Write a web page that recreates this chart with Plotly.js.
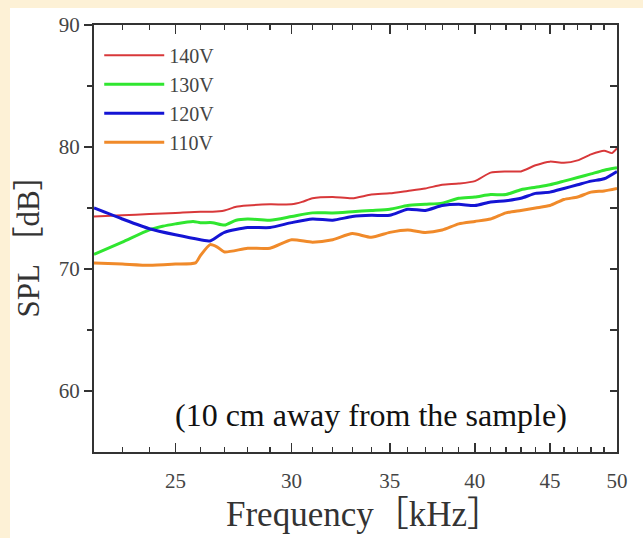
<!DOCTYPE html>
<html>
<head>
<meta charset="utf-8">
<script src="https://cdn.plot.ly/plotly-3.0.1.min.js"></script>
<style>
html, body { margin: 0; padding: 0; background: #FDF1D6; width: 643px; height: 538px; overflow: hidden; }
#chart { position: absolute; left: 10px; top: 8px; width: 633px; height: 530px; background: #ffffff; }
</style>
</head>
<body>
<div id="chart"></div>
<script>
// ---- data ----
const seriesNames = ["140V", "130V", "120V", "110V"];

const freq140 = [22, 23, 24, 25, 26, 26.5, 27, 27.5, 28, 29, 30, 30.5, 31, 32, 33, 34, 35, 36, 37, 38, 39, 40, 41, 42, 43, 44, 45, 46, 47, 48, 49, 49.6, 50];
const spl140  = [74.3, 74.4, 74.5, 74.6, 74.7, 74.7, 74.8, 75.1, 75.2, 75.3, 75.3, 75.5, 75.8, 75.9, 75.8, 76.1, 76.2, 76.4, 76.6, 76.9, 77.0, 77.2, 77.9, 78.0, 78.0, 78.5, 78.8, 78.7, 78.9, 79.4, 79.7, 79.5, 79.9];

const freq130 = [22, 23, 24, 24.5, 25, 25.7, 26, 26.5, 27, 27.5, 28, 29, 30, 31, 32, 33, 34, 35, 36, 37, 38, 39, 40, 41, 42, 43, 44, 45, 46, 47, 48, 49, 50];
const spl130  = [71.2, 72.2, 73.2, 73.5, 73.7, 73.9, 73.8, 73.8, 73.6, 74.0, 74.1, 74.0, 74.3, 74.6, 74.6, 74.7, 74.8, 74.9, 75.2, 75.3, 75.4, 75.8, 75.9, 76.1, 76.1, 76.5, 76.7, 76.9, 77.2, 77.5, 77.8, 78.1, 78.3];

const freq120 = [22, 23, 24, 25, 26, 26.4, 26.5, 27, 28, 29, 30, 31, 32, 33, 34, 35, 36, 37, 38, 39, 40, 41, 42, 43, 44, 45, 46, 47, 48, 49, 50];
const spl120  = [75.0, 74.1, 73.3, 72.8, 72.4, 72.3, 72.4, 73.0, 73.4, 73.4, 73.8, 74.1, 74.0, 74.3, 74.4, 74.4, 74.9, 74.8, 75.2, 75.3, 75.2, 75.5, 75.6, 75.8, 76.2, 76.3, 76.6, 76.9, 77.2, 77.4, 78.0];

const freq110 = [22, 23, 24, 25, 25.8, 26, 26.4, 26.7, 27, 28, 29, 30, 31, 32, 33, 34, 35, 36, 37, 38, 39, 40, 41, 42, 43, 44, 45, 46, 47, 48, 49, 50];
const spl110  = [70.5, 70.4, 70.3, 70.4, 70.5, 71.1, 72.0, 71.8, 71.4, 71.7, 71.7, 72.4, 72.2, 72.4, 72.9, 72.6, 73.0, 73.2, 73.0, 73.2, 73.7, 73.9, 74.1, 74.6, 74.8, 75.0, 75.2, 75.7, 75.9, 76.3, 76.4, 76.6];

const xMajorTicks = [25, 30, 35, 40, 45, 50];
const xMinorTicks = [22, 23, 24, 26, 27, 28, 29, 31, 32, 33, 34, 36, 37, 38, 39, 41, 42, 43, 44, 46, 47, 48, 49];
const yMajorTicks = [60, 70, 80, 90];
const yMinorTicks = [65, 75, 85];
const xRange = [22, 50];
const yRange = [55, 90];
const xTitle = "Frequency［kHz］";
const yTitle = "SPL ［dB］";
const note = "(10 cm away from the sample)";

const colors = ["#D8383A", "#30E630", "#1414D4", "#F08A2A"];
const widths = [2, 3, 3, 3];

const xs = [freq140, freq130, freq120, freq110];
const ys = [spl140, spl130, spl120, spl110];

const traces = seriesNames.map((name, i) => ({
  type: "scatter",
  mode: "lines",
  name: name,
  x: xs[i],
  y: ys[i],
  line: { color: colors[i], width: widths[i], shape: "spline", smoothing: 0.6 },
  showlegend: true
}));

// tick-only helper traces so the overlay axes (inside ticks, minor ticks, right-side ticks) are drawn
traces.push({ type: "scatter", mode: "none", x: freq140, y: spl140, xaxis: "x2", yaxis: "y2", showlegend: false, hoverinfo: "skip" });
traces.push({ type: "scatter", mode: "none", x: freq140, y: spl140, xaxis: "x3", yaxis: "y2", showlegend: false, hoverinfo: "skip" });
traces.push({ type: "scatter", mode: "none", x: freq140, y: spl140, xaxis: "x", yaxis: "y3", showlegend: false, hoverinfo: "skip" });

const serif = "Liberation Serif, DejaVu Serif, serif";
const tickFont = { family: serif, size: 21, color: "#444" };
const frameColor = "#333";
const logRange = [Math.log10(xRange[0]), Math.log10(xRange[1])];

const layout = {
  width: 633,
  height: 530,
  margin: { l: 84, r: 26, t: 17, b: 86 },
  showlegend: true,
  legend: {
    x: 0.01, y: 0.975, xanchor: "left", yanchor: "top",
    bgcolor: "rgba(0,0,0,0)",
    font: { family: serif, size: 20, color: "#444" },
    itemwidth: 60,
    tracegroupgap: 0
  },
  xaxis: {
    type: "log",
    range: logRange,
    tickmode: "array",
    tickvals: xMajorTicks,
    ticktext: xMajorTicks.map(String),
    ticks: "outside",
    ticklen: 9,
    tickcolor: "rgba(0,0,0,0)",
    showline: true,
    linecolor: frameColor,
    linewidth: 2,
    mirror: true,
    showgrid: false,
    zeroline: false,
    tickfont: tickFont
  },
  xaxis2: {
    type: "log",
    overlaying: "x",
    anchor: "y",
    side: "bottom",
    range: logRange,
    tickmode: "array",
    tickvals: xMajorTicks,
    showticklabels: false,
    ticks: "inside",
    ticklen: 9,
    tickwidth: 1.6,
    tickcolor: frameColor,
    mirror: "allticks",
    showline: false,
    showgrid: false,
    zeroline: false
  },
  xaxis3: {
    type: "log",
    overlaying: "x",
    anchor: "y",
    side: "bottom",
    range: logRange,
    tickmode: "array",
    tickvals: xMinorTicks,
    showticklabels: false,
    ticks: "inside",
    ticklen: 5,
    tickwidth: 1.3,
    tickcolor: frameColor,
    mirror: "allticks",
    showline: false,
    showgrid: false,
    zeroline: false
  },
  yaxis: {
    range: yRange,
    tickmode: "array",
    tickvals: yMajorTicks,
    ticktext: yMajorTicks.map(String),
    ticks: "outside",
    ticklen: 8,
    tickwidth: 1.6,
    tickcolor: frameColor,
    showline: true,
    linecolor: frameColor,
    linewidth: 2,
    showgrid: false,
    zeroline: false,
    tickfont: tickFont,
    title: { text: yTitle, font: { family: "Liberation Serif, Noto Sans CJK SC, serif", size: 31, color: "#333" }, standoff: 10 }
  },
  yaxis2: {
    overlaying: "y",
    side: "right",
    anchor: "x",
    range: yRange,
    tickmode: "array",
    tickvals: yMajorTicks.concat(yMinorTicks),
    showticklabels: false,
    ticks: "inside",
    ticklen: 7,
    tickwidth: 1.6,
    tickcolor: frameColor,
    showline: true,
    linecolor: frameColor,
    linewidth: 2,
    showgrid: false,
    zeroline: false
  },
  yaxis3: {
    overlaying: "y",
    side: "left",
    anchor: "x",
    range: yRange,
    tickmode: "array",
    tickvals: yMinorTicks,
    showticklabels: false,
    ticks: "outside",
    ticklen: 6,
    tickwidth: 1.3,
    tickcolor: frameColor,
    showline: false,
    showgrid: false,
    zeroline: false
  },
  annotations: [
    {
      text: note,
      xref: "paper", yref: "paper",
      x: 0.53, y: 0.087,
      xanchor: "center", yanchor: "middle",
      showarrow: false,
      font: { family: "Liberation Serif, Times New Roman, serif", size: 32, color: "#111" }
    },
    {
      text: xTitle,
      xref: "paper", yref: "paper",
      x: 0.516, y: -0.146,
      xanchor: "center", yanchor: "middle",
      showarrow: false,
      font: { family: "Liberation Serif, Noto Sans CJK SC, serif", size: 35, color: "#333" }
    }
  ]
};

Plotly.newPlot("chart", traces, layout, { staticPlot: true, displayModeBar: false });
</script>
</body>
</html>
